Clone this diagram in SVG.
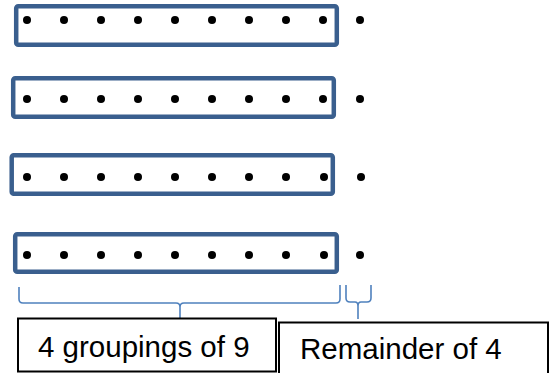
<svg xmlns="http://www.w3.org/2000/svg" width="550" height="373" viewBox="0 0 550 373">
<defs>
<style>
.grp{fill:none;stroke:#3A5F8E;stroke-width:4.5;}
.dot{fill:#000;}
.brace{fill:none;stroke:#4F81BD;stroke-width:1.6;stroke-linejoin:round;}
.lbl{fill:#fff;stroke:#000;stroke-width:2;}
.txt{font-family:"Liberation Sans",Arial,sans-serif;font-size:29.5px;fill:#000;}
</style>
<circle id="d" r="4" class="dot"/>
</defs>
<rect width="550" height="373" fill="#fff"/>
<g id="row1">
<rect class="grp" x="16.2" y="6.2" width="320.6" height="38.6" rx="2"/>
<use href="#d" x="27" y="20"/><use href="#d" x="64" y="20"/><use href="#d" x="101" y="20"/><use href="#d" x="138" y="20"/><use href="#d" x="175" y="20"/><use href="#d" x="212" y="20"/><use href="#d" x="249" y="20"/><use href="#d" x="286" y="20"/><use href="#d" x="323" y="20"/>
<use href="#d" x="360" y="20"/>
</g>
<g id="row2">
<rect class="grp" x="13.2" y="78.2" width="320.6" height="38.6" rx="2"/>
<use href="#d" x="27" y="99"/><use href="#d" x="64" y="99"/><use href="#d" x="101" y="99"/><use href="#d" x="138" y="99"/><use href="#d" x="175" y="99"/><use href="#d" x="212" y="99"/><use href="#d" x="249" y="99"/><use href="#d" x="286" y="99"/><use href="#d" x="323" y="99"/>
<use href="#d" x="360" y="99"/>
</g>
<g id="row3">
<rect class="grp" x="11.7" y="155.2" width="321.1" height="38.6" rx="2"/>
<use href="#d" x="27" y="177"/><use href="#d" x="64" y="177"/><use href="#d" x="101" y="177"/><use href="#d" x="138" y="177"/><use href="#d" x="175" y="177"/><use href="#d" x="212" y="177"/><use href="#d" x="249" y="177"/><use href="#d" x="286" y="177"/><use href="#d" x="324" y="177"/>
<use href="#d" x="361" y="177"/>
</g>
<g id="row4">
<rect class="grp" x="15.2" y="234.2" width="321.6" height="37.6" rx="2"/>
<use href="#d" x="27" y="255"/><use href="#d" x="64" y="255"/><use href="#d" x="101" y="255"/><use href="#d" x="138" y="255"/><use href="#d" x="175" y="255"/><use href="#d" x="212" y="255"/><use href="#d" x="249" y="255"/><use href="#d" x="286" y="255"/><use href="#d" x="324" y="255"/>
<use href="#d" x="360" y="255"/>
</g>
<g id="connectors">
<path class="brace" d="M19,287 L19,299 Q19,303 23,303 L176,303 Q180,303 180,307 L180,319 M180,307 Q180,303 184,303 L336,303 Q340,303 340,299 L340,285"/>
<path class="brace" d="M346,285 L346,298 Q346,302 350,302 L355,302 Q358,302 358,306 L358,319 M358,306 Q358,302 361,302 L367,302 Q371,302 371,298 L371,285"/>
</g>
<g id="label-groupings">
<rect class="lbl" x="18" y="318.5" width="258" height="53"/>
<text class="txt" x="38" y="357">4 groupings of 9</text>
</g>
<g id="label-remainder">
<rect class="lbl" x="279" y="322.5" width="269" height="60"/>
<text class="txt" x="300" y="359">Remainder of 4</text>
</g>
</svg>
